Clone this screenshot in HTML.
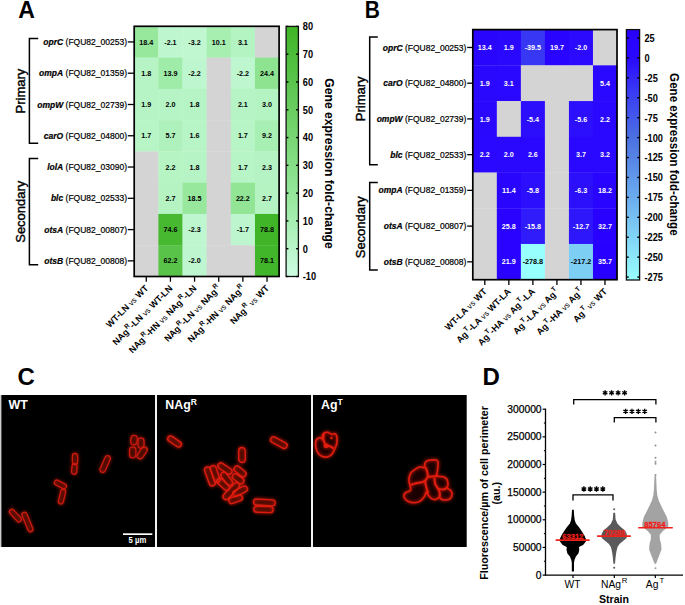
<!DOCTYPE html><html><head><meta charset="utf-8"><style>html,body{margin:0;padding:0;background:#fff;}svg{display:block;}</style></head><body><svg width="685" height="605" viewBox="0 0 685 605" font-family='"Liberation Sans", sans-serif'>
<rect width="685" height="605" fill="#fff"/>
<text transform="translate(18.3,17.5) scale(0.96,1)" font-size="24" font-weight="bold">A</text>
<text transform="translate(364.7,17.5) scale(0.875,1)" font-size="24" font-weight="bold">B</text>
<text transform="translate(17.4,385.0) scale(1.0,1)" font-size="24" font-weight="bold">C</text>
<text transform="translate(482.6,385.2) scale(1.0,1)" font-size="24" font-weight="bold">D</text>
<rect x="134.20" y="26.30" width="24.45" height="31.57" fill="#97e89d"/>
<rect x="158.35" y="26.30" width="24.45" height="31.57" fill="#bef7cf"/>
<rect x="182.50" y="26.30" width="24.45" height="31.57" fill="#c0f7d1"/>
<rect x="206.65" y="26.30" width="24.45" height="31.57" fill="#a7eeb1"/>
<rect x="230.80" y="26.30" width="24.45" height="31.57" fill="#b4f3c2"/>
<rect x="254.95" y="26.30" width="24.45" height="31.57" fill="#d4d4d4"/>
<rect x="134.20" y="57.58" width="24.45" height="31.57" fill="#b6f4c5"/>
<rect x="158.35" y="57.58" width="24.45" height="31.57" fill="#9feba8"/>
<rect x="182.50" y="57.58" width="24.45" height="31.57" fill="#bef7cf"/>
<rect x="206.65" y="57.58" width="24.45" height="31.57" fill="#d4d4d4"/>
<rect x="230.80" y="57.58" width="24.45" height="31.57" fill="#bef7cf"/>
<rect x="254.95" y="57.58" width="24.45" height="31.57" fill="#8ee391"/>
<rect x="134.20" y="88.85" width="24.45" height="31.57" fill="#b6f4c5"/>
<rect x="158.35" y="88.85" width="24.45" height="31.57" fill="#b6f4c5"/>
<rect x="182.50" y="88.85" width="24.45" height="31.57" fill="#b6f4c5"/>
<rect x="206.65" y="88.85" width="24.45" height="31.57" fill="#d4d4d4"/>
<rect x="230.80" y="88.85" width="24.45" height="31.57" fill="#b6f4c5"/>
<rect x="254.95" y="88.85" width="24.45" height="31.57" fill="#b4f3c2"/>
<rect x="134.20" y="120.12" width="24.45" height="31.57" fill="#b7f4c6"/>
<rect x="158.35" y="120.12" width="24.45" height="31.57" fill="#aff1bc"/>
<rect x="182.50" y="120.12" width="24.45" height="31.57" fill="#b7f4c6"/>
<rect x="206.65" y="120.12" width="24.45" height="31.57" fill="#d4d4d4"/>
<rect x="230.80" y="120.12" width="24.45" height="31.57" fill="#b7f4c6"/>
<rect x="254.95" y="120.12" width="24.45" height="31.57" fill="#a8efb3"/>
<rect x="134.20" y="151.40" width="24.45" height="31.57" fill="#d4d4d4"/>
<rect x="158.35" y="151.40" width="24.45" height="31.57" fill="#b6f4c4"/>
<rect x="182.50" y="151.40" width="24.45" height="31.57" fill="#b6f4c5"/>
<rect x="206.65" y="151.40" width="24.45" height="31.57" fill="#d4d4d4"/>
<rect x="230.80" y="151.40" width="24.45" height="31.57" fill="#b7f4c6"/>
<rect x="254.95" y="151.40" width="24.45" height="31.57" fill="#b6f3c4"/>
<rect x="134.20" y="182.68" width="24.45" height="31.57" fill="#d4d4d4"/>
<rect x="158.35" y="182.68" width="24.45" height="31.57" fill="#b5f3c3"/>
<rect x="182.50" y="182.68" width="24.45" height="31.57" fill="#97e89d"/>
<rect x="206.65" y="182.68" width="24.45" height="31.57" fill="#d4d4d4"/>
<rect x="230.80" y="182.68" width="24.45" height="31.57" fill="#91e595"/>
<rect x="254.95" y="182.68" width="24.45" height="31.57" fill="#b5f3c3"/>
<rect x="134.20" y="213.95" width="24.45" height="31.57" fill="#d4d4d4"/>
<rect x="158.35" y="213.95" width="24.45" height="31.57" fill="#46b930"/>
<rect x="182.50" y="213.95" width="24.45" height="31.57" fill="#bef7cf"/>
<rect x="206.65" y="213.95" width="24.45" height="31.57" fill="#d4d4d4"/>
<rect x="230.80" y="213.95" width="24.45" height="31.57" fill="#bdf6ce"/>
<rect x="254.95" y="213.95" width="24.45" height="31.57" fill="#40b528"/>
<rect x="134.20" y="245.22" width="24.45" height="31.57" fill="#d4d4d4"/>
<rect x="158.35" y="245.22" width="24.45" height="31.57" fill="#58c348"/>
<rect x="182.50" y="245.22" width="24.45" height="31.57" fill="#bef6cf"/>
<rect x="206.65" y="245.22" width="24.45" height="31.57" fill="#d4d4d4"/>
<rect x="230.80" y="245.22" width="24.45" height="31.57" fill="#d4d4d4"/>
<rect x="254.95" y="245.22" width="24.45" height="31.57" fill="#41b62a"/>
<text x="146.27" y="44.54" font-size="7.2" font-weight="bold" fill="#000" text-anchor="middle">18.4</text>
<text x="170.43" y="44.54" font-size="7.2" font-weight="bold" fill="#000" text-anchor="middle">-2.1</text>
<text x="194.57" y="44.54" font-size="7.2" font-weight="bold" fill="#000" text-anchor="middle">-3.2</text>
<text x="218.73" y="44.54" font-size="7.2" font-weight="bold" fill="#000" text-anchor="middle">10.1</text>
<text x="242.88" y="44.54" font-size="7.2" font-weight="bold" fill="#000" text-anchor="middle">3.1</text>
<text x="146.27" y="75.81" font-size="7.2" font-weight="bold" fill="#000" text-anchor="middle">1.8</text>
<text x="170.43" y="75.81" font-size="7.2" font-weight="bold" fill="#000" text-anchor="middle">13.9</text>
<text x="194.57" y="75.81" font-size="7.2" font-weight="bold" fill="#000" text-anchor="middle">-2.2</text>
<text x="242.88" y="75.81" font-size="7.2" font-weight="bold" fill="#000" text-anchor="middle">-2.2</text>
<text x="267.03" y="75.81" font-size="7.2" font-weight="bold" fill="#000" text-anchor="middle">24.4</text>
<text x="146.27" y="107.09" font-size="7.2" font-weight="bold" fill="#000" text-anchor="middle">1.9</text>
<text x="170.43" y="107.09" font-size="7.2" font-weight="bold" fill="#000" text-anchor="middle">2.0</text>
<text x="194.57" y="107.09" font-size="7.2" font-weight="bold" fill="#000" text-anchor="middle">1.8</text>
<text x="242.88" y="107.09" font-size="7.2" font-weight="bold" fill="#000" text-anchor="middle">2.1</text>
<text x="267.03" y="107.09" font-size="7.2" font-weight="bold" fill="#000" text-anchor="middle">3.0</text>
<text x="146.27" y="138.36" font-size="7.2" font-weight="bold" fill="#000" text-anchor="middle">1.7</text>
<text x="170.43" y="138.36" font-size="7.2" font-weight="bold" fill="#000" text-anchor="middle">5.7</text>
<text x="194.57" y="138.36" font-size="7.2" font-weight="bold" fill="#000" text-anchor="middle">1.6</text>
<text x="242.88" y="138.36" font-size="7.2" font-weight="bold" fill="#000" text-anchor="middle">1.7</text>
<text x="267.03" y="138.36" font-size="7.2" font-weight="bold" fill="#000" text-anchor="middle">9.2</text>
<text x="170.43" y="169.64" font-size="7.2" font-weight="bold" fill="#000" text-anchor="middle">2.2</text>
<text x="194.57" y="169.64" font-size="7.2" font-weight="bold" fill="#000" text-anchor="middle">1.8</text>
<text x="242.88" y="169.64" font-size="7.2" font-weight="bold" fill="#000" text-anchor="middle">1.7</text>
<text x="267.03" y="169.64" font-size="7.2" font-weight="bold" fill="#000" text-anchor="middle">2.3</text>
<text x="170.43" y="200.91" font-size="7.2" font-weight="bold" fill="#000" text-anchor="middle">2.7</text>
<text x="194.57" y="200.91" font-size="7.2" font-weight="bold" fill="#000" text-anchor="middle">18.5</text>
<text x="242.88" y="200.91" font-size="7.2" font-weight="bold" fill="#000" text-anchor="middle">22.2</text>
<text x="267.03" y="200.91" font-size="7.2" font-weight="bold" fill="#000" text-anchor="middle">2.7</text>
<text x="170.43" y="232.19" font-size="7.2" font-weight="bold" fill="#000" text-anchor="middle">74.6</text>
<text x="194.57" y="232.19" font-size="7.2" font-weight="bold" fill="#000" text-anchor="middle">-2.3</text>
<text x="242.88" y="232.19" font-size="7.2" font-weight="bold" fill="#000" text-anchor="middle">-1.7</text>
<text x="267.03" y="232.19" font-size="7.2" font-weight="bold" fill="#000" text-anchor="middle">78.8</text>
<text x="170.43" y="263.46" font-size="7.2" font-weight="bold" fill="#000" text-anchor="middle">62.2</text>
<text x="194.57" y="263.46" font-size="7.2" font-weight="bold" fill="#000" text-anchor="middle">-2.0</text>
<text x="267.03" y="263.46" font-size="7.2" font-weight="bold" fill="#000" text-anchor="middle">78.1</text>
<rect x="134.20" y="26.30" width="144.90" height="250.20" fill="none" stroke="#000" stroke-width="1.7"/>
<text x="127.00" y="45.04" font-size="8.5" text-anchor="end" stroke="#000" stroke-width="0.2"><tspan font-weight="bold" font-style="italic">oprC</tspan> (FQU82_00253)</text>
<line x1="127.80" y1="41.94" x2="134.20" y2="41.94" stroke="#000" stroke-width="1.3"/>
<text x="127.00" y="76.31" font-size="8.5" text-anchor="end" stroke="#000" stroke-width="0.2"><tspan font-weight="bold" font-style="italic">ompA</tspan> (FQU82_01359)</text>
<line x1="127.80" y1="73.21" x2="134.20" y2="73.21" stroke="#000" stroke-width="1.3"/>
<text x="127.00" y="107.59" font-size="8.5" text-anchor="end" stroke="#000" stroke-width="0.2"><tspan font-weight="bold" font-style="italic">ompW</tspan> (FQU82_02739)</text>
<line x1="127.80" y1="104.49" x2="134.20" y2="104.49" stroke="#000" stroke-width="1.3"/>
<text x="127.00" y="138.86" font-size="8.5" text-anchor="end" stroke="#000" stroke-width="0.2"><tspan font-weight="bold" font-style="italic">carO</tspan> (FQU82_04800)</text>
<line x1="127.80" y1="135.76" x2="134.20" y2="135.76" stroke="#000" stroke-width="1.3"/>
<text x="127.00" y="170.14" font-size="8.5" text-anchor="end" stroke="#000" stroke-width="0.2"><tspan font-weight="bold" font-style="italic">lolA</tspan> (FQU82_03090)</text>
<line x1="127.80" y1="167.04" x2="134.20" y2="167.04" stroke="#000" stroke-width="1.3"/>
<text x="127.00" y="201.41" font-size="8.5" text-anchor="end" stroke="#000" stroke-width="0.2"><tspan font-weight="bold" font-style="italic">blc</tspan> (FQU82_02533)</text>
<line x1="127.80" y1="198.31" x2="134.20" y2="198.31" stroke="#000" stroke-width="1.3"/>
<text x="127.00" y="232.69" font-size="8.5" text-anchor="end" stroke="#000" stroke-width="0.2"><tspan font-weight="bold" font-style="italic">otsA</tspan> (FQU82_00807)</text>
<line x1="127.80" y1="229.59" x2="134.20" y2="229.59" stroke="#000" stroke-width="1.3"/>
<text x="127.00" y="263.96" font-size="8.5" text-anchor="end" stroke="#000" stroke-width="0.2"><tspan font-weight="bold" font-style="italic">otsB</tspan> (FQU82_00808)</text>
<line x1="127.80" y1="260.86" x2="134.20" y2="260.86" stroke="#000" stroke-width="1.3"/>
<line x1="146.27" y1="276.5" x2="146.27" y2="281.7" stroke="#000" stroke-width="1.3"/>
<line x1="170.43" y1="276.5" x2="170.43" y2="281.7" stroke="#000" stroke-width="1.3"/>
<line x1="194.57" y1="276.5" x2="194.57" y2="281.7" stroke="#000" stroke-width="1.3"/>
<line x1="218.73" y1="276.5" x2="218.73" y2="281.7" stroke="#000" stroke-width="1.3"/>
<line x1="242.88" y1="276.5" x2="242.88" y2="281.7" stroke="#000" stroke-width="1.3"/>
<line x1="267.03" y1="276.5" x2="267.03" y2="281.7" stroke="#000" stroke-width="1.3"/>
<path d="M38.2,38.6 H29.4 V143.3 H38.2" fill="none" stroke="#000" stroke-width="1.5"/>
<path d="M38.2,158.6 H29.4 V264.8 H38.2" fill="none" stroke="#000" stroke-width="1.5"/>
<text transform="translate(25.4,91.1) rotate(-90)" font-size="13" text-anchor="middle" stroke="#000" stroke-width="0.4">Primary</text>
<text transform="translate(25.4,211.7) rotate(-90)" font-size="13" text-anchor="middle" stroke="#000" stroke-width="0.4">Secondary</text>
<defs><linearGradient id="g116" x1="0" y1="1" x2="0" y2="0"><stop offset="0" stop-color="#cdfce2"/><stop offset="0.32" stop-color="#96e89c"/><stop offset="1" stop-color="#3eb426"/></linearGradient></defs>
<rect x="286.1" y="26.4" width="12.299999999999955" height="250.1" fill="url(#g116)" stroke="#111" stroke-width="1.3"/>
<line x1="286.1" y1="26.40" x2="288.40000000000003" y2="26.40" stroke="#000" stroke-width="1.4"/>
<line x1="296.09999999999997" y1="26.40" x2="298.4" y2="26.40" stroke="#000" stroke-width="1.4"/>
<text transform="translate(302.8,30.30) scale(0.87,1)" font-size="10.6" font-weight="bold">80</text>
<line x1="286.1" y1="54.19" x2="288.40000000000003" y2="54.19" stroke="#000" stroke-width="1.4"/>
<line x1="296.09999999999997" y1="54.19" x2="298.4" y2="54.19" stroke="#000" stroke-width="1.4"/>
<text transform="translate(302.8,58.09) scale(0.87,1)" font-size="10.6" font-weight="bold">70</text>
<line x1="286.1" y1="81.98" x2="288.40000000000003" y2="81.98" stroke="#000" stroke-width="1.4"/>
<line x1="296.09999999999997" y1="81.98" x2="298.4" y2="81.98" stroke="#000" stroke-width="1.4"/>
<text transform="translate(302.8,85.88) scale(0.87,1)" font-size="10.6" font-weight="bold">60</text>
<line x1="286.1" y1="109.77" x2="288.40000000000003" y2="109.77" stroke="#000" stroke-width="1.4"/>
<line x1="296.09999999999997" y1="109.77" x2="298.4" y2="109.77" stroke="#000" stroke-width="1.4"/>
<text transform="translate(302.8,113.67) scale(0.87,1)" font-size="10.6" font-weight="bold">50</text>
<line x1="286.1" y1="137.56" x2="288.40000000000003" y2="137.56" stroke="#000" stroke-width="1.4"/>
<line x1="296.09999999999997" y1="137.56" x2="298.4" y2="137.56" stroke="#000" stroke-width="1.4"/>
<text transform="translate(302.8,141.46) scale(0.87,1)" font-size="10.6" font-weight="bold">40</text>
<line x1="286.1" y1="165.34" x2="288.40000000000003" y2="165.34" stroke="#000" stroke-width="1.4"/>
<line x1="296.09999999999997" y1="165.34" x2="298.4" y2="165.34" stroke="#000" stroke-width="1.4"/>
<text transform="translate(302.8,169.24) scale(0.87,1)" font-size="10.6" font-weight="bold">30</text>
<line x1="286.1" y1="193.13" x2="288.40000000000003" y2="193.13" stroke="#000" stroke-width="1.4"/>
<line x1="296.09999999999997" y1="193.13" x2="298.4" y2="193.13" stroke="#000" stroke-width="1.4"/>
<text transform="translate(302.8,197.03) scale(0.87,1)" font-size="10.6" font-weight="bold">20</text>
<line x1="286.1" y1="220.92" x2="288.40000000000003" y2="220.92" stroke="#000" stroke-width="1.4"/>
<line x1="296.09999999999997" y1="220.92" x2="298.4" y2="220.92" stroke="#000" stroke-width="1.4"/>
<text transform="translate(302.8,224.82) scale(0.87,1)" font-size="10.6" font-weight="bold">10</text>
<line x1="286.1" y1="248.71" x2="288.40000000000003" y2="248.71" stroke="#000" stroke-width="1.4"/>
<line x1="296.09999999999997" y1="248.71" x2="298.4" y2="248.71" stroke="#000" stroke-width="1.4"/>
<text transform="translate(302.8,252.61) scale(0.87,1)" font-size="10.6" font-weight="bold">0</text>
<line x1="286.1" y1="276.50" x2="288.40000000000003" y2="276.50" stroke="#000" stroke-width="1.4"/>
<line x1="296.09999999999997" y1="276.50" x2="298.4" y2="276.50" stroke="#000" stroke-width="1.4"/>
<text transform="translate(302.8,280.40) scale(0.87,1)" font-size="10.6" font-weight="bold">-10</text>
<text transform="translate(324.7,78.2) rotate(90)" font-size="13" font-weight="bold" textLength="170.6" lengthAdjust="spacingAndGlyphs">Gene expression fold-change</text>
<text transform="translate(148.87,288.90) rotate(-45)" font-size="9" font-weight="bold" text-anchor="end">WT-LN <tspan font-weight="normal" font-size="8">vs</tspan> WT</text>
<text transform="translate(173.03,288.90) rotate(-45)" font-size="9" font-weight="bold" text-anchor="end">NAg<tspan dx="0.6" dy="-4.2" font-size="6.5">R</tspan><tspan dy="4.2">-LN <tspan font-weight="normal" font-size="8">vs</tspan> WT-LN</tspan></text>
<text transform="translate(197.17,288.90) rotate(-45)" font-size="9" font-weight="bold" text-anchor="end">NAg<tspan dx="0.6" dy="-4.2" font-size="6.5">R</tspan><tspan dy="4.2">-HN <tspan font-weight="normal" font-size="8">vs</tspan> NAg</tspan><tspan dx="0.6" dy="-4.2" font-size="6.5">R</tspan><tspan dy="4.2">-LN</tspan></text>
<text transform="translate(221.33,288.90) rotate(-45)" font-size="9" font-weight="bold" text-anchor="end">NAg<tspan dx="0.6" dy="-4.2" font-size="6.5">R</tspan><tspan dy="4.2">-LN <tspan font-weight="normal" font-size="8">vs</tspan> NAg</tspan><tspan dx="0.6" dy="-4.2" font-size="6.5">R</tspan><tspan dy="4.2"> </tspan></text>
<text transform="translate(245.47,288.90) rotate(-45)" font-size="9" font-weight="bold" text-anchor="end">NAg<tspan dx="0.6" dy="-4.2" font-size="6.5">R</tspan><tspan dy="4.2">-HN <tspan font-weight="normal" font-size="8">vs</tspan> NAg</tspan><tspan dx="0.6" dy="-4.2" font-size="6.5">R</tspan><tspan dy="4.2"> </tspan></text>
<text transform="translate(269.63,288.90) rotate(-45)" font-size="9" font-weight="bold" text-anchor="end">NAg<tspan dx="0.6" dy="-4.2" font-size="6.5">R</tspan><tspan dy="4.2"> <tspan font-weight="normal" font-size="8">vs</tspan> WT</tspan></text>
<rect x="472.80" y="29.60" width="24.33" height="36.03" fill="#2905fe"/>
<rect x="496.83" y="29.60" width="24.33" height="36.03" fill="#2a08fe"/>
<rect x="520.87" y="29.60" width="24.33" height="36.03" fill="#3838f4"/>
<rect x="544.90" y="29.60" width="24.33" height="36.03" fill="#2904ff"/>
<rect x="568.93" y="29.60" width="24.33" height="36.03" fill="#2b0afe"/>
<rect x="592.97" y="29.60" width="24.33" height="36.03" fill="#d4d4d4"/>
<rect x="472.80" y="65.33" width="24.33" height="36.03" fill="#2a08fe"/>
<rect x="496.83" y="65.33" width="24.33" height="36.03" fill="#2a07fe"/>
<rect x="520.87" y="65.33" width="24.33" height="36.03" fill="#d4d4d4"/>
<rect x="544.90" y="65.33" width="24.33" height="36.03" fill="#d4d4d4"/>
<rect x="568.93" y="65.33" width="24.33" height="36.03" fill="#d4d4d4"/>
<rect x="592.97" y="65.33" width="24.33" height="36.03" fill="#2a07fe"/>
<rect x="472.80" y="101.06" width="24.33" height="36.03" fill="#2a08fe"/>
<rect x="496.83" y="101.06" width="24.33" height="36.03" fill="#d4d4d4"/>
<rect x="520.87" y="101.06" width="24.33" height="36.03" fill="#2c0efd"/>
<rect x="544.90" y="101.06" width="24.33" height="36.03" fill="#d4d4d4"/>
<rect x="568.93" y="101.06" width="24.33" height="36.03" fill="#2c0ffd"/>
<rect x="592.97" y="101.06" width="24.33" height="36.03" fill="#2a07fe"/>
<rect x="472.80" y="136.79" width="24.33" height="36.03" fill="#2a07fe"/>
<rect x="496.83" y="136.79" width="24.33" height="36.03" fill="#2a08fe"/>
<rect x="520.87" y="136.79" width="24.33" height="36.03" fill="#2a07fe"/>
<rect x="544.90" y="136.79" width="24.33" height="36.03" fill="#d4d4d4"/>
<rect x="568.93" y="136.79" width="24.33" height="36.03" fill="#2a07fe"/>
<rect x="592.97" y="136.79" width="24.33" height="36.03" fill="#2a07fe"/>
<rect x="472.80" y="172.51" width="24.33" height="36.03" fill="#d4d4d4"/>
<rect x="496.83" y="172.51" width="24.33" height="36.03" fill="#2905fe"/>
<rect x="520.87" y="172.51" width="24.33" height="36.03" fill="#2c0ffd"/>
<rect x="544.90" y="172.51" width="24.33" height="36.03" fill="#d4d4d4"/>
<rect x="568.93" y="172.51" width="24.33" height="36.03" fill="#2c10fc"/>
<rect x="592.97" y="172.51" width="24.33" height="36.03" fill="#2904ff"/>
<rect x="472.80" y="208.24" width="24.33" height="36.03" fill="#d4d4d4"/>
<rect x="496.83" y="208.24" width="24.33" height="36.03" fill="#2902ff"/>
<rect x="520.87" y="208.24" width="24.33" height="36.03" fill="#301bfa"/>
<rect x="544.90" y="208.24" width="24.33" height="36.03" fill="#d4d4d4"/>
<rect x="568.93" y="208.24" width="24.33" height="36.03" fill="#2e17fb"/>
<rect x="592.97" y="208.24" width="24.33" height="36.03" fill="#2801ff"/>
<rect x="472.80" y="243.97" width="24.33" height="36.03" fill="#d4d4d4"/>
<rect x="496.83" y="243.97" width="24.33" height="36.03" fill="#2903ff"/>
<rect x="520.87" y="243.97" width="24.33" height="36.03" fill="#98ffff"/>
<rect x="544.90" y="243.97" width="24.33" height="36.03" fill="#d4d4d4"/>
<rect x="568.93" y="243.97" width="24.33" height="36.03" fill="#7dcef5"/>
<rect x="592.97" y="243.97" width="24.33" height="36.03" fill="#2800ff"/>
<text x="484.82" y="50.06" font-size="7.2" font-weight="bold" fill="#fff" text-anchor="middle">13.4</text>
<text x="508.85" y="50.06" font-size="7.2" font-weight="bold" fill="#fff" text-anchor="middle">1.9</text>
<text x="532.88" y="50.06" font-size="7.2" font-weight="bold" fill="#fff" text-anchor="middle">-39.5</text>
<text x="556.92" y="50.06" font-size="7.2" font-weight="bold" fill="#fff" text-anchor="middle">19.7</text>
<text x="580.95" y="50.06" font-size="7.2" font-weight="bold" fill="#fff" text-anchor="middle">-2.0</text>
<text x="484.82" y="85.79" font-size="7.2" font-weight="bold" fill="#fff" text-anchor="middle">1.9</text>
<text x="508.85" y="85.79" font-size="7.2" font-weight="bold" fill="#fff" text-anchor="middle">3.1</text>
<text x="604.98" y="85.79" font-size="7.2" font-weight="bold" fill="#fff" text-anchor="middle">5.4</text>
<text x="484.82" y="121.52" font-size="7.2" font-weight="bold" fill="#fff" text-anchor="middle">1.9</text>
<text x="532.88" y="121.52" font-size="7.2" font-weight="bold" fill="#fff" text-anchor="middle">-5.4</text>
<text x="580.95" y="121.52" font-size="7.2" font-weight="bold" fill="#fff" text-anchor="middle">-5.6</text>
<text x="604.98" y="121.52" font-size="7.2" font-weight="bold" fill="#fff" text-anchor="middle">2.2</text>
<text x="484.82" y="157.25" font-size="7.2" font-weight="bold" fill="#fff" text-anchor="middle">2.2</text>
<text x="508.85" y="157.25" font-size="7.2" font-weight="bold" fill="#fff" text-anchor="middle">2.0</text>
<text x="532.88" y="157.25" font-size="7.2" font-weight="bold" fill="#fff" text-anchor="middle">2.6</text>
<text x="580.95" y="157.25" font-size="7.2" font-weight="bold" fill="#fff" text-anchor="middle">3.7</text>
<text x="604.98" y="157.25" font-size="7.2" font-weight="bold" fill="#fff" text-anchor="middle">3.2</text>
<text x="508.85" y="192.98" font-size="7.2" font-weight="bold" fill="#fff" text-anchor="middle">11.4</text>
<text x="532.88" y="192.98" font-size="7.2" font-weight="bold" fill="#fff" text-anchor="middle">-5.8</text>
<text x="580.95" y="192.98" font-size="7.2" font-weight="bold" fill="#fff" text-anchor="middle">-6.3</text>
<text x="604.98" y="192.98" font-size="7.2" font-weight="bold" fill="#fff" text-anchor="middle">18.2</text>
<text x="508.85" y="228.71" font-size="7.2" font-weight="bold" fill="#fff" text-anchor="middle">25.8</text>
<text x="532.88" y="228.71" font-size="7.2" font-weight="bold" fill="#fff" text-anchor="middle">-15.8</text>
<text x="580.95" y="228.71" font-size="7.2" font-weight="bold" fill="#fff" text-anchor="middle">-12.7</text>
<text x="604.98" y="228.71" font-size="7.2" font-weight="bold" fill="#fff" text-anchor="middle">32.7</text>
<text x="508.85" y="264.44" font-size="7.2" font-weight="bold" fill="#fff" text-anchor="middle">21.9</text>
<text x="532.88" y="264.44" font-size="7.2" font-weight="bold" fill="#000" text-anchor="middle">-278.8</text>
<text x="580.95" y="264.44" font-size="7.2" font-weight="bold" fill="#000" text-anchor="middle">-217.2</text>
<text x="604.98" y="264.44" font-size="7.2" font-weight="bold" fill="#fff" text-anchor="middle">35.7</text>
<rect x="472.80" y="29.60" width="144.20" height="250.10" fill="none" stroke="#000" stroke-width="1.7"/>
<text x="466.40" y="50.56" font-size="8.5" text-anchor="end" stroke="#000" stroke-width="0.2"><tspan font-weight="bold" font-style="italic">oprC</tspan> (FQU82_00253)</text>
<line x1="467.20" y1="47.46" x2="472.80" y2="47.46" stroke="#000" stroke-width="1.3"/>
<text x="466.40" y="86.29" font-size="8.5" text-anchor="end" stroke="#000" stroke-width="0.2"><tspan font-weight="bold" font-style="italic">carO</tspan> (FQU82_04800)</text>
<line x1="467.20" y1="83.19" x2="472.80" y2="83.19" stroke="#000" stroke-width="1.3"/>
<text x="466.40" y="122.02" font-size="8.5" text-anchor="end" stroke="#000" stroke-width="0.2"><tspan font-weight="bold" font-style="italic">ompW</tspan> (FQU82_02739)</text>
<line x1="467.20" y1="118.92" x2="472.80" y2="118.92" stroke="#000" stroke-width="1.3"/>
<text x="466.40" y="157.75" font-size="8.5" text-anchor="end" stroke="#000" stroke-width="0.2"><tspan font-weight="bold" font-style="italic">blc</tspan> (FQU82_02533)</text>
<line x1="467.20" y1="154.65" x2="472.80" y2="154.65" stroke="#000" stroke-width="1.3"/>
<text x="466.40" y="193.48" font-size="8.5" text-anchor="end" stroke="#000" stroke-width="0.2"><tspan font-weight="bold" font-style="italic">ompA</tspan> (FQU82_01359)</text>
<line x1="467.20" y1="190.38" x2="472.80" y2="190.38" stroke="#000" stroke-width="1.3"/>
<text x="466.40" y="229.21" font-size="8.5" text-anchor="end" stroke="#000" stroke-width="0.2"><tspan font-weight="bold" font-style="italic">otsA</tspan> (FQU82_00807)</text>
<line x1="467.20" y1="226.11" x2="472.80" y2="226.11" stroke="#000" stroke-width="1.3"/>
<text x="466.40" y="264.94" font-size="8.5" text-anchor="end" stroke="#000" stroke-width="0.2"><tspan font-weight="bold" font-style="italic">otsB</tspan> (FQU82_00808)</text>
<line x1="467.20" y1="261.84" x2="472.80" y2="261.84" stroke="#000" stroke-width="1.3"/>
<line x1="484.82" y1="279.7" x2="484.82" y2="284.9" stroke="#000" stroke-width="1.3"/>
<line x1="508.85" y1="279.7" x2="508.85" y2="284.9" stroke="#000" stroke-width="1.3"/>
<line x1="532.88" y1="279.7" x2="532.88" y2="284.9" stroke="#000" stroke-width="1.3"/>
<line x1="556.92" y1="279.7" x2="556.92" y2="284.9" stroke="#000" stroke-width="1.3"/>
<line x1="580.95" y1="279.7" x2="580.95" y2="284.9" stroke="#000" stroke-width="1.3"/>
<line x1="604.98" y1="279.7" x2="604.98" y2="284.9" stroke="#000" stroke-width="1.3"/>
<path d="M377.8,37.0 H369.7 V164.7 H377.8" fill="none" stroke="#000" stroke-width="1.5"/>
<path d="M377.8,182.5 H369.7 V270.0 H377.8" fill="none" stroke="#000" stroke-width="1.5"/>
<text transform="translate(365.1,98.8) rotate(-90)" font-size="13" text-anchor="middle" stroke="#000" stroke-width="0.4">Primary</text>
<text transform="translate(365.1,227.2) rotate(-90)" font-size="13" text-anchor="middle" stroke="#000" stroke-width="0.4">Secondary</text>
<defs><linearGradient id="g251" x1="0" y1="1" x2="0" y2="0"><stop offset="0" stop-color="#98ffff"/><stop offset="0.5685" stop-color="#4b70e2"/><stop offset="0.761" stop-color="#3838f4"/><stop offset="0.886" stop-color="#2a08fe"/><stop offset="1" stop-color="#2800ff"/></linearGradient></defs>
<rect x="626.4" y="29.6" width="13.200000000000045" height="250.4" fill="url(#g251)" stroke="#111" stroke-width="1.3"/>
<line x1="626.4" y1="37.97" x2="628.6999999999999" y2="37.97" stroke="#000" stroke-width="1.4"/>
<line x1="637.3000000000001" y1="37.97" x2="639.6" y2="37.97" stroke="#000" stroke-width="1.4"/>
<text transform="translate(644.5,41.87) scale(0.87,1)" font-size="10.6" font-weight="bold">25</text>
<line x1="626.4" y1="57.90" x2="628.6999999999999" y2="57.90" stroke="#000" stroke-width="1.4"/>
<line x1="637.3000000000001" y1="57.90" x2="639.6" y2="57.90" stroke="#000" stroke-width="1.4"/>
<text transform="translate(644.5,61.80) scale(0.87,1)" font-size="10.6" font-weight="bold">0</text>
<line x1="626.4" y1="77.83" x2="628.6999999999999" y2="77.83" stroke="#000" stroke-width="1.4"/>
<line x1="637.3000000000001" y1="77.83" x2="639.6" y2="77.83" stroke="#000" stroke-width="1.4"/>
<text transform="translate(644.5,81.73) scale(0.87,1)" font-size="10.6" font-weight="bold">-25</text>
<line x1="626.4" y1="97.75" x2="628.6999999999999" y2="97.75" stroke="#000" stroke-width="1.4"/>
<line x1="637.3000000000001" y1="97.75" x2="639.6" y2="97.75" stroke="#000" stroke-width="1.4"/>
<text transform="translate(644.5,101.65) scale(0.87,1)" font-size="10.6" font-weight="bold">-50</text>
<line x1="626.4" y1="117.68" x2="628.6999999999999" y2="117.68" stroke="#000" stroke-width="1.4"/>
<line x1="637.3000000000001" y1="117.68" x2="639.6" y2="117.68" stroke="#000" stroke-width="1.4"/>
<text transform="translate(644.5,121.58) scale(0.87,1)" font-size="10.6" font-weight="bold">-75</text>
<line x1="626.4" y1="137.60" x2="628.6999999999999" y2="137.60" stroke="#000" stroke-width="1.4"/>
<line x1="637.3000000000001" y1="137.60" x2="639.6" y2="137.60" stroke="#000" stroke-width="1.4"/>
<text transform="translate(644.5,141.50) scale(0.87,1)" font-size="10.6" font-weight="bold">-100</text>
<line x1="626.4" y1="157.53" x2="628.6999999999999" y2="157.53" stroke="#000" stroke-width="1.4"/>
<line x1="637.3000000000001" y1="157.53" x2="639.6" y2="157.53" stroke="#000" stroke-width="1.4"/>
<text transform="translate(644.5,161.43) scale(0.87,1)" font-size="10.6" font-weight="bold">-125</text>
<line x1="626.4" y1="177.45" x2="628.6999999999999" y2="177.45" stroke="#000" stroke-width="1.4"/>
<line x1="637.3000000000001" y1="177.45" x2="639.6" y2="177.45" stroke="#000" stroke-width="1.4"/>
<text transform="translate(644.5,181.35) scale(0.87,1)" font-size="10.6" font-weight="bold">-150</text>
<line x1="626.4" y1="197.38" x2="628.6999999999999" y2="197.38" stroke="#000" stroke-width="1.4"/>
<line x1="637.3000000000001" y1="197.38" x2="639.6" y2="197.38" stroke="#000" stroke-width="1.4"/>
<text transform="translate(644.5,201.28) scale(0.87,1)" font-size="10.6" font-weight="bold">-175</text>
<line x1="626.4" y1="217.30" x2="628.6999999999999" y2="217.30" stroke="#000" stroke-width="1.4"/>
<line x1="637.3000000000001" y1="217.30" x2="639.6" y2="217.30" stroke="#000" stroke-width="1.4"/>
<text transform="translate(644.5,221.20) scale(0.87,1)" font-size="10.6" font-weight="bold">-200</text>
<line x1="626.4" y1="237.23" x2="628.6999999999999" y2="237.23" stroke="#000" stroke-width="1.4"/>
<line x1="637.3000000000001" y1="237.23" x2="639.6" y2="237.23" stroke="#000" stroke-width="1.4"/>
<text transform="translate(644.5,241.13) scale(0.87,1)" font-size="10.6" font-weight="bold">-225</text>
<line x1="626.4" y1="257.15" x2="628.6999999999999" y2="257.15" stroke="#000" stroke-width="1.4"/>
<line x1="637.3000000000001" y1="257.15" x2="639.6" y2="257.15" stroke="#000" stroke-width="1.4"/>
<text transform="translate(644.5,261.05) scale(0.87,1)" font-size="10.6" font-weight="bold">-250</text>
<line x1="626.4" y1="277.07" x2="628.6999999999999" y2="277.07" stroke="#000" stroke-width="1.4"/>
<line x1="637.3000000000001" y1="277.07" x2="639.6" y2="277.07" stroke="#000" stroke-width="1.4"/>
<text transform="translate(644.5,280.97) scale(0.87,1)" font-size="10.6" font-weight="bold">-275</text>
<text transform="translate(669.5,73.1) rotate(90)" font-size="13" font-weight="bold" textLength="162.5" lengthAdjust="spacingAndGlyphs">Gene expression fold-change</text>
<text transform="translate(487.42,292.10) rotate(-45)" font-size="9" font-weight="bold" text-anchor="end">WT-LA <tspan font-weight="normal" font-size="8">vs</tspan> WT</text>
<text transform="translate(511.45,292.10) rotate(-45)" font-size="9" font-weight="bold" text-anchor="end">Ag<tspan dx="0.6" dy="-4.2" font-size="6.5">T</tspan><tspan dy="4.2">-LA <tspan font-weight="normal" font-size="8">vs</tspan> WT-LA</tspan></text>
<text transform="translate(535.48,292.10) rotate(-45)" font-size="9" font-weight="bold" text-anchor="end">Ag<tspan dx="0.6" dy="-4.2" font-size="6.5">T</tspan><tspan dy="4.2">-HA <tspan font-weight="normal" font-size="8">vs</tspan> Ag</tspan><tspan dx="0.6" dy="-4.2" font-size="6.5">T</tspan><tspan dy="4.2">-LA</tspan></text>
<text transform="translate(559.52,292.10) rotate(-45)" font-size="9" font-weight="bold" text-anchor="end">Ag<tspan dx="0.6" dy="-4.2" font-size="6.5">T</tspan><tspan dy="4.2">-LA <tspan font-weight="normal" font-size="8">vs</tspan> Ag</tspan><tspan dx="0.6" dy="-4.2" font-size="6.5">T</tspan><tspan dy="4.2"> </tspan></text>
<text transform="translate(583.55,292.10) rotate(-45)" font-size="9" font-weight="bold" text-anchor="end">Ag<tspan dx="0.6" dy="-4.2" font-size="6.5">T</tspan><tspan dy="4.2">-HA <tspan font-weight="normal" font-size="8">vs</tspan> Ag</tspan><tspan dx="0.6" dy="-4.2" font-size="6.5">T</tspan><tspan dy="4.2"> </tspan></text>
<text transform="translate(607.58,292.10) rotate(-45)" font-size="9" font-weight="bold" text-anchor="end">Ag<tspan dx="0.6" dy="-4.2" font-size="6.5">T</tspan><tspan dy="4.2"> <tspan font-weight="normal" font-size="8">vs</tspan> WT</tspan></text>
<defs><filter id="glow" x="-50%" y="-50%" width="200%" height="200%"><feGaussianBlur stdDeviation="0.6"/></filter><filter id="glow2" x="-50%" y="-50%" width="200%" height="200%"><feGaussianBlur stdDeviation="1.6"/></filter><clipPath id="cp1"><rect x="1.2" y="395" width="153.8" height="152"/></clipPath><clipPath id="cp2"><rect x="157" y="395" width="154" height="152"/></clipPath><clipPath id="cp3"><rect x="313" y="395" width="153.7" height="152"/></clipPath></defs>
<rect x="1.2" y="395" width="465.5" height="152" fill="#000"/>
<rect x="155" y="395" width="2" height="152" fill="#f2f2f2"/>
<rect x="311" y="395" width="2" height="152" fill="#f2f2f2"/>
<rect x="0.6" y="395" width="0.8" height="152" fill="#888"/>
<g clip-path="url(#cp1)">
<g fill="none" stroke="#e01a0a" stroke-width="3.4" opacity="0.4" filter="url(#glow2)"><rect x="-7.65" y="-2.50" width="15.30" height="5.00" rx="2.50" transform="translate(15.40,515.60) rotate(47.2)"/><rect x="-10.30" y="-2.50" width="20.59" height="5.00" rx="2.50" transform="translate(27.45,522.00) rotate(67.9)"/><rect x="-6.49" y="-2.50" width="12.99" height="5.00" rx="2.50" transform="translate(60.40,484.50) rotate(27.8)"/><rect x="-7.44" y="-2.50" width="14.88" height="5.00" rx="2.50" transform="translate(62.00,496.70) rotate(103.2)"/><rect x="-5.65" y="-2.60" width="11.30" height="5.20" rx="2.60" transform="translate(75.00,458.95) rotate(90.0)"/><rect x="-5.31" y="-2.60" width="10.62" height="5.20" rx="2.60" transform="translate(74.35,469.00) rotate(94.8)"/><rect x="-8.85" y="-2.75" width="17.70" height="5.50" rx="2.75" transform="translate(105.20,464.05) rotate(114.0)"/><rect x="-4.81" y="-3.20" width="9.62" height="6.40" rx="3.20" transform="translate(134.00,440.10) rotate(96.0)"/><rect x="-5.25" y="-3.05" width="10.50" height="6.10" rx="3.05" transform="translate(141.00,443.10) rotate(90.0)"/><rect x="-5.55" y="-3.20" width="11.10" height="6.40" rx="3.20" transform="translate(132.70,452.35) rotate(90.0)"/><rect x="-6.67" y="-3.00" width="13.33" height="6.00" rx="3.00" transform="translate(142.20,452.90) rotate(123.7)"/></g>
<g fill="#ff2010" fill-opacity="0.17" stroke="#d41c10" stroke-opacity="0.92" stroke-width="1.3" filter="url(#glow)"><rect x="-7.65" y="-2.50" width="15.30" height="5.00" rx="2.50" transform="translate(15.40,515.60) rotate(47.2)"/><rect x="-10.30" y="-2.50" width="20.59" height="5.00" rx="2.50" transform="translate(27.45,522.00) rotate(67.9)"/><rect x="-6.49" y="-2.50" width="12.99" height="5.00" rx="2.50" transform="translate(60.40,484.50) rotate(27.8)"/><rect x="-7.44" y="-2.50" width="14.88" height="5.00" rx="2.50" transform="translate(62.00,496.70) rotate(103.2)"/><rect x="-5.65" y="-2.60" width="11.30" height="5.20" rx="2.60" transform="translate(75.00,458.95) rotate(90.0)"/><rect x="-5.31" y="-2.60" width="10.62" height="5.20" rx="2.60" transform="translate(74.35,469.00) rotate(94.8)"/><rect x="-8.85" y="-2.75" width="17.70" height="5.50" rx="2.75" transform="translate(105.20,464.05) rotate(114.0)"/><rect x="-4.81" y="-3.20" width="9.62" height="6.40" rx="3.20" transform="translate(134.00,440.10) rotate(96.0)"/><rect x="-5.25" y="-3.05" width="10.50" height="6.10" rx="3.05" transform="translate(141.00,443.10) rotate(90.0)"/><rect x="-5.55" y="-3.20" width="11.10" height="6.40" rx="3.20" transform="translate(132.70,452.35) rotate(90.0)"/><rect x="-6.67" y="-3.00" width="13.33" height="6.00" rx="3.00" transform="translate(142.20,452.90) rotate(123.7)"/></g>
</g>
<g clip-path="url(#cp2)">
<g fill="none" stroke="#e01a0a" stroke-width="3.4" opacity="0.55" filter="url(#glow2)"><rect x="-7.71" y="-2.80" width="15.43" height="5.60" rx="2.80" transform="translate(174.50,441.45) rotate(34.5)"/><rect x="-7.45" y="-3.25" width="14.90" height="6.50" rx="3.25" transform="translate(242.00,455.00) rotate(90.0)"/><rect x="-8.99" y="-3.00" width="17.97" height="6.00" rx="3.00" transform="translate(278.85,442.65) rotate(28.0)"/><rect x="-10.86" y="-3.00" width="21.72" height="6.00" rx="3.00" transform="translate(264.35,502.45) rotate(3.2)"/><rect x="-9.70" y="-3.00" width="19.40" height="6.00" rx="3.00" transform="translate(263.50,509.45) rotate(1.2)"/><rect x="-9.93" y="-3.00" width="19.86" height="6.00" rx="3.00" transform="translate(209.85,476.40) rotate(70.2)"/><rect x="-8.74" y="-3.00" width="17.48" height="6.00" rx="3.00" transform="translate(215.10,474.00) rotate(70.7)"/><rect x="-7.90" y="-3.00" width="15.80" height="6.00" rx="3.00" transform="translate(224.95,468.55) rotate(33.2)"/><rect x="-7.72" y="-3.00" width="15.44" height="6.00" rx="3.00" transform="translate(226.70,478.85) rotate(51.9)"/><rect x="-7.51" y="-3.00" width="15.02" height="6.00" rx="3.00" transform="translate(223.20,484.30) rotate(43.3)"/><rect x="-6.86" y="-3.00" width="13.72" height="6.00" rx="3.00" transform="translate(240.05,471.40) rotate(38.7)"/><rect x="-6.50" y="-3.00" width="13.00" height="6.00" rx="3.00" transform="translate(238.10,478.80) rotate(35.4)"/><rect x="-10.62" y="-3.00" width="21.24" height="6.00" rx="3.00" transform="translate(231.30,491.10) rotate(-46.0)"/><rect x="-7.89" y="-3.00" width="15.78" height="6.00" rx="3.00" transform="translate(240.10,491.30) rotate(-27.6)"/><rect x="-7.11" y="-3.00" width="14.23" height="6.00" rx="3.00" transform="translate(235.65,499.20) rotate(-19.9)"/></g>
<g fill="#ff2010" fill-opacity="0.17" stroke="#e41e10" stroke-opacity="0.92" stroke-width="1.4" filter="url(#glow)"><rect x="-7.71" y="-2.80" width="15.43" height="5.60" rx="2.80" transform="translate(174.50,441.45) rotate(34.5)"/><rect x="-7.45" y="-3.25" width="14.90" height="6.50" rx="3.25" transform="translate(242.00,455.00) rotate(90.0)"/><rect x="-8.99" y="-3.00" width="17.97" height="6.00" rx="3.00" transform="translate(278.85,442.65) rotate(28.0)"/><rect x="-10.86" y="-3.00" width="21.72" height="6.00" rx="3.00" transform="translate(264.35,502.45) rotate(3.2)"/><rect x="-9.70" y="-3.00" width="19.40" height="6.00" rx="3.00" transform="translate(263.50,509.45) rotate(1.2)"/><rect x="-9.93" y="-3.00" width="19.86" height="6.00" rx="3.00" transform="translate(209.85,476.40) rotate(70.2)"/><rect x="-8.74" y="-3.00" width="17.48" height="6.00" rx="3.00" transform="translate(215.10,474.00) rotate(70.7)"/><rect x="-7.90" y="-3.00" width="15.80" height="6.00" rx="3.00" transform="translate(224.95,468.55) rotate(33.2)"/><rect x="-7.72" y="-3.00" width="15.44" height="6.00" rx="3.00" transform="translate(226.70,478.85) rotate(51.9)"/><rect x="-7.51" y="-3.00" width="15.02" height="6.00" rx="3.00" transform="translate(223.20,484.30) rotate(43.3)"/><rect x="-6.86" y="-3.00" width="13.72" height="6.00" rx="3.00" transform="translate(240.05,471.40) rotate(38.7)"/><rect x="-6.50" y="-3.00" width="13.00" height="6.00" rx="3.00" transform="translate(238.10,478.80) rotate(35.4)"/><rect x="-10.62" y="-3.00" width="21.24" height="6.00" rx="3.00" transform="translate(231.30,491.10) rotate(-46.0)"/><rect x="-7.89" y="-3.00" width="15.78" height="6.00" rx="3.00" transform="translate(240.10,491.30) rotate(-27.6)"/><rect x="-7.11" y="-3.00" width="14.23" height="6.00" rx="3.00" transform="translate(235.65,499.20) rotate(-19.9)"/></g>
</g>
<g clip-path="url(#cp3)">
<g fill="none" stroke="#e01a0a" stroke-width="3.4" opacity="0.6" filter="url(#glow2)"><path d="M425.27,462.27 C425.80,461.67 426.18,460.83 428.00,460.45 C429.82,460.08 434.52,459.77 436.18,460.00 C437.85,460.23 437.70,460.83 438.00,461.82 C438.30,462.80 438.08,464.47 438.00,465.91 C437.92,467.35 437.70,468.79 437.55,470.45 C437.39,472.12 436.11,474.85 437.09,475.91 C438.08,476.97 441.79,476.21 443.45,476.82 C445.12,477.42 446.33,478.18 447.09,479.55 C447.85,480.91 448.00,483.64 448.00,485.00 C448.00,486.36 446.64,486.82 447.09,487.73 C447.55,488.64 449.89,489.39 450.73,490.45 C451.56,491.52 452.17,492.73 452.09,494.09 C452.02,495.45 451.26,497.65 450.27,498.64 C449.29,499.62 447.62,499.85 446.18,500.00 C444.74,500.15 442.77,499.92 441.64,499.55 C440.50,499.17 440.42,497.73 439.36,497.73 C438.30,497.73 436.56,499.39 435.27,499.55 C433.98,499.70 432.70,499.24 431.64,498.64 C430.58,498.03 429.82,496.97 428.91,495.91 C428.00,494.85 426.94,492.12 426.18,492.27 C425.42,492.42 425.42,495.30 424.36,496.82 C423.30,498.33 421.48,500.38 419.82,501.36 C418.15,502.35 416.18,502.65 414.36,502.73 C412.55,502.80 410.50,502.50 408.91,501.82 C407.32,501.14 405.65,499.77 404.82,498.64 C403.98,497.50 403.68,496.06 403.91,495.00 C404.14,493.94 405.20,492.95 406.18,492.27 C407.17,491.59 409.06,491.52 409.82,490.91 C410.58,490.30 410.73,489.62 410.73,488.64 C410.73,487.65 410.12,486.52 409.82,485.00 C409.52,483.48 408.76,481.52 408.91,479.55 C409.06,477.58 409.52,475.00 410.73,473.18 C411.94,471.36 414.52,469.70 416.18,468.64 C417.85,467.58 419.44,466.97 420.73,466.82 C422.02,466.67 423.23,468.18 423.91,467.73 C424.59,467.27 424.59,465.00 424.82,464.09 C425.05,463.18 424.74,462.88 425.27,462.27 Z"/><path d="M322.84,434.84 C323.18,433.87 323.80,433.25 324.57,432.81 C325.35,432.38 326.50,432.09 327.47,432.23 C328.43,432.38 329.59,433.34 330.36,433.68 C331.13,434.02 331.33,434.26 332.10,434.26 C332.87,434.26 334.22,433.39 334.99,433.68 C335.76,433.97 336.39,434.74 336.73,436.00 C337.06,437.25 337.11,439.56 337.02,441.20 C336.92,442.84 336.58,444.48 336.15,445.83 C335.71,447.18 334.89,448.24 334.41,449.31 C333.93,450.37 333.93,451.14 333.25,452.20 C332.58,453.26 331.52,454.85 330.36,455.67 C329.20,456.49 327.76,457.02 326.31,457.12 C324.86,457.21 323.03,456.88 321.68,456.25 C320.33,455.62 319.17,454.71 318.21,453.36 C317.24,452.01 316.33,449.98 315.89,448.15 C315.46,446.32 315.41,443.90 315.60,442.36 C315.80,440.82 316.33,439.66 317.05,438.89 C317.77,438.12 319.03,437.78 319.94,437.73 C320.86,437.68 322.07,439.08 322.55,438.60 C323.03,438.12 322.50,435.80 322.84,434.84 Z"/></g>
<g fill="#ff2010" fill-opacity="0.1" stroke="#ec2010" stroke-opacity="0.92" stroke-width="1.6" filter="url(#glow)"><path d="M425.27,462.27 C425.80,461.67 426.18,460.83 428.00,460.45 C429.82,460.08 434.52,459.77 436.18,460.00 C437.85,460.23 437.70,460.83 438.00,461.82 C438.30,462.80 438.08,464.47 438.00,465.91 C437.92,467.35 437.70,468.79 437.55,470.45 C437.39,472.12 436.11,474.85 437.09,475.91 C438.08,476.97 441.79,476.21 443.45,476.82 C445.12,477.42 446.33,478.18 447.09,479.55 C447.85,480.91 448.00,483.64 448.00,485.00 C448.00,486.36 446.64,486.82 447.09,487.73 C447.55,488.64 449.89,489.39 450.73,490.45 C451.56,491.52 452.17,492.73 452.09,494.09 C452.02,495.45 451.26,497.65 450.27,498.64 C449.29,499.62 447.62,499.85 446.18,500.00 C444.74,500.15 442.77,499.92 441.64,499.55 C440.50,499.17 440.42,497.73 439.36,497.73 C438.30,497.73 436.56,499.39 435.27,499.55 C433.98,499.70 432.70,499.24 431.64,498.64 C430.58,498.03 429.82,496.97 428.91,495.91 C428.00,494.85 426.94,492.12 426.18,492.27 C425.42,492.42 425.42,495.30 424.36,496.82 C423.30,498.33 421.48,500.38 419.82,501.36 C418.15,502.35 416.18,502.65 414.36,502.73 C412.55,502.80 410.50,502.50 408.91,501.82 C407.32,501.14 405.65,499.77 404.82,498.64 C403.98,497.50 403.68,496.06 403.91,495.00 C404.14,493.94 405.20,492.95 406.18,492.27 C407.17,491.59 409.06,491.52 409.82,490.91 C410.58,490.30 410.73,489.62 410.73,488.64 C410.73,487.65 410.12,486.52 409.82,485.00 C409.52,483.48 408.76,481.52 408.91,479.55 C409.06,477.58 409.52,475.00 410.73,473.18 C411.94,471.36 414.52,469.70 416.18,468.64 C417.85,467.58 419.44,466.97 420.73,466.82 C422.02,466.67 423.23,468.18 423.91,467.73 C424.59,467.27 424.59,465.00 424.82,464.09 C425.05,463.18 424.74,462.88 425.27,462.27 Z"/><path d="M322.84,434.84 C323.18,433.87 323.80,433.25 324.57,432.81 C325.35,432.38 326.50,432.09 327.47,432.23 C328.43,432.38 329.59,433.34 330.36,433.68 C331.13,434.02 331.33,434.26 332.10,434.26 C332.87,434.26 334.22,433.39 334.99,433.68 C335.76,433.97 336.39,434.74 336.73,436.00 C337.06,437.25 337.11,439.56 337.02,441.20 C336.92,442.84 336.58,444.48 336.15,445.83 C335.71,447.18 334.89,448.24 334.41,449.31 C333.93,450.37 333.93,451.14 333.25,452.20 C332.58,453.26 331.52,454.85 330.36,455.67 C329.20,456.49 327.76,457.02 326.31,457.12 C324.86,457.21 323.03,456.88 321.68,456.25 C320.33,455.62 319.17,454.71 318.21,453.36 C317.24,452.01 316.33,449.98 315.89,448.15 C315.46,446.32 315.41,443.90 315.60,442.36 C315.80,440.82 316.33,439.66 317.05,438.89 C317.77,438.12 319.03,437.78 319.94,437.73 C320.86,437.68 322.07,439.08 322.55,438.60 C323.03,438.12 322.50,435.80 322.84,434.84 Z"/></g>
<g fill="none" stroke="#ff1a0a" stroke-width="3.4" opacity="0.55" filter="url(#glow2)"><path d="M410.73,485.00 C411.64,484.70 414.36,483.64 416.18,483.18 C418.00,482.73 420.12,482.73 421.64,482.27 C423.15,481.82 424.67,480.76 425.27,480.45 "/><path d="M425.27,466.82 C425.58,467.58 426.64,469.70 427.09,471.36 C427.55,473.03 427.85,475.91 428.00,476.82 "/><path d="M428.00,476.82 C429.06,476.74 432.85,476.52 434.36,476.36 C435.88,476.21 436.64,475.98 437.09,475.91 "/><path d="M428.00,476.82 C427.55,477.58 425.58,479.70 425.27,481.36 C424.97,483.03 425.73,484.85 426.18,486.82 C426.64,488.79 427.70,492.12 428.00,493.18 "/><path d="M434.36,477.73 C434.52,478.79 434.67,482.27 435.27,484.09 C435.88,485.91 437.24,487.12 438.00,488.64 C438.76,490.15 439.59,491.67 439.82,493.18 C440.05,494.70 439.44,496.97 439.36,497.73 "/><path d="M438.00,488.64 C438.91,488.79 441.94,489.70 443.45,489.55 C444.97,489.39 446.48,488.03 447.09,487.73 "/><path d="M323.13,438.89 C323.37,439.56 323.85,441.88 324.57,442.94 C325.30,444.00 326.31,444.58 327.47,445.25 C328.62,445.93 330.51,446.46 331.52,446.99 C332.53,447.52 333.21,448.20 333.54,448.44 "/><path d="M330.36,438.60 C330.70,438.41 332.05,437.64 332.39,437.44 "/><path d="M323.42,438.89 C323.37,438.50 323.03,437.35 323.13,436.57 C323.22,435.80 323.85,434.65 324.00,434.26 "/><ellipse cx="326.3" cy="445.9" rx="1.7" ry="1.1"/></g>
<g fill="none" stroke="#e82010" stroke-opacity="0.95" stroke-width="2.0" filter="url(#glow)"><path d="M410.73,485.00 C411.64,484.70 414.36,483.64 416.18,483.18 C418.00,482.73 420.12,482.73 421.64,482.27 C423.15,481.82 424.67,480.76 425.27,480.45 "/><path d="M425.27,466.82 C425.58,467.58 426.64,469.70 427.09,471.36 C427.55,473.03 427.85,475.91 428.00,476.82 "/><path d="M428.00,476.82 C429.06,476.74 432.85,476.52 434.36,476.36 C435.88,476.21 436.64,475.98 437.09,475.91 "/><path d="M428.00,476.82 C427.55,477.58 425.58,479.70 425.27,481.36 C424.97,483.03 425.73,484.85 426.18,486.82 C426.64,488.79 427.70,492.12 428.00,493.18 "/><path d="M434.36,477.73 C434.52,478.79 434.67,482.27 435.27,484.09 C435.88,485.91 437.24,487.12 438.00,488.64 C438.76,490.15 439.59,491.67 439.82,493.18 C440.05,494.70 439.44,496.97 439.36,497.73 "/><path d="M438.00,488.64 C438.91,488.79 441.94,489.70 443.45,489.55 C444.97,489.39 446.48,488.03 447.09,487.73 "/><path d="M323.13,438.89 C323.37,439.56 323.85,441.88 324.57,442.94 C325.30,444.00 326.31,444.58 327.47,445.25 C328.62,445.93 330.51,446.46 331.52,446.99 C332.53,447.52 333.21,448.20 333.54,448.44 "/><path d="M330.36,438.60 C330.70,438.41 332.05,437.64 332.39,437.44 "/><path d="M323.42,438.89 C323.37,438.50 323.03,437.35 323.13,436.57 C323.22,435.80 323.85,434.65 324.00,434.26 "/><ellipse cx="326.3" cy="445.9" rx="1.7" ry="1.1"/></g>
</g>
<text x="8.5" y="409.1" font-size="12.4" font-weight="bold" fill="#fff">WT</text>
<text x="165.3" y="409.3" font-size="12.4" font-weight="bold" fill="#fff">NAg<tspan dy="-4.6" font-size="8.5">R</tspan></text>
<text x="321.0" y="409.3" font-size="12.4" font-weight="bold" fill="#fff">Ag<tspan dy="-4.6" font-size="8.5">T</tspan></text>
<rect x="123" y="533.3" width="29.3" height="1.7" fill="#fff"/>
<text x="128.6" y="543.3" font-size="8.7" font-weight="bold" fill="#fff" textLength="17.6" lengthAdjust="spacingAndGlyphs">5 µm</text>
<line x1="545.5" y1="408.60" x2="545.5" y2="575.7" stroke="#000" stroke-width="1.3"/>
<line x1="544.9" y1="575.1" x2="683" y2="575.1" stroke="#000" stroke-width="1.3"/>
<line x1="542.6" y1="575.10" x2="545.5" y2="575.10" stroke="#000" stroke-width="1.2"/>
<text x="541.6" y="578.60" font-size="10.3" text-anchor="end" stroke="#000" stroke-width="0.25">0</text>
<line x1="543.9" y1="561.27" x2="545.5" y2="561.27" stroke="#000" stroke-width="1.1"/>
<line x1="542.6" y1="547.45" x2="545.5" y2="547.45" stroke="#000" stroke-width="1.2"/>
<text x="541.6" y="550.95" font-size="10.3" text-anchor="end" stroke="#000" stroke-width="0.25">50000</text>
<line x1="543.9" y1="533.62" x2="545.5" y2="533.62" stroke="#000" stroke-width="1.1"/>
<line x1="542.6" y1="519.80" x2="545.5" y2="519.80" stroke="#000" stroke-width="1.2"/>
<text x="541.6" y="523.30" font-size="10.3" text-anchor="end" stroke="#000" stroke-width="0.25">100000</text>
<line x1="543.9" y1="505.98" x2="545.5" y2="505.98" stroke="#000" stroke-width="1.1"/>
<line x1="542.6" y1="492.15" x2="545.5" y2="492.15" stroke="#000" stroke-width="1.2"/>
<text x="541.6" y="495.65" font-size="10.3" text-anchor="end" stroke="#000" stroke-width="0.25">150000</text>
<line x1="543.9" y1="478.33" x2="545.5" y2="478.33" stroke="#000" stroke-width="1.1"/>
<line x1="542.6" y1="464.50" x2="545.5" y2="464.50" stroke="#000" stroke-width="1.2"/>
<text x="541.6" y="468.00" font-size="10.3" text-anchor="end" stroke="#000" stroke-width="0.25">200000</text>
<line x1="543.9" y1="450.68" x2="545.5" y2="450.68" stroke="#000" stroke-width="1.1"/>
<line x1="542.6" y1="436.85" x2="545.5" y2="436.85" stroke="#000" stroke-width="1.2"/>
<text x="541.6" y="440.35" font-size="10.3" text-anchor="end" stroke="#000" stroke-width="0.25">250000</text>
<line x1="543.9" y1="423.03" x2="545.5" y2="423.03" stroke="#000" stroke-width="1.1"/>
<line x1="542.6" y1="409.20" x2="545.5" y2="409.20" stroke="#000" stroke-width="1.2"/>
<text x="541.6" y="412.70" font-size="10.3" text-anchor="end" stroke="#000" stroke-width="0.25">300000</text>
<line x1="573.0" y1="575.1" x2="573.0" y2="578.0" stroke="#000" stroke-width="1.2"/>
<line x1="614.3" y1="575.1" x2="614.3" y2="578.0" stroke="#000" stroke-width="1.2"/>
<line x1="655.3" y1="575.1" x2="655.3" y2="578.0" stroke="#000" stroke-width="1.2"/>
<text x="572.6" y="587.9" font-size="10.3" text-anchor="middle">WT</text>
<text x="601.0" y="587.9" font-size="10.3">NAg<tspan dx="0.6" dy="-4.8" font-size="7.8">R</tspan></text>
<text x="645.8" y="587.9" font-size="10.3">Ag<tspan dx="1.0" dy="-5.4" font-size="7.8">T</tspan></text>
<text x="614.0" y="603.1" font-size="10.6" font-weight="bold" text-anchor="middle">Strain</text>
<text transform="translate(487.9,493.0) rotate(-90)" font-size="10.7" font-weight="bold" text-anchor="middle" textLength="173.7" lengthAdjust="spacingAndGlyphs">Fluorescence/µm of cell perimeter</text>
<text transform="translate(499.7,493.3) rotate(-90)" font-size="10.7" font-weight="bold" text-anchor="middle">(au.)</text>
<path d="M572.00,509.70 L571.70,515.00 L571.10,520.00 L569.90,523.60 L566.80,527.30 L564.90,530.00 L563.10,532.70 L561.10,535.90 L559.90,539.10 L559.40,540.50 L560.90,542.70 L562.70,545.00 L565.90,546.50 L566.80,547.30 L566.50,550.00 L567.40,553.60 L569.90,556.40 L571.30,560.00 L571.80,562.70 L571.80,571.50 L574.00,571.50 L574.00,562.70 L574.50,560.00 L575.90,556.40 L578.40,553.60 L579.30,550.00 L579.00,547.30 L579.90,546.50 L583.10,545.00 L584.90,542.70 L586.40,540.50 L585.90,539.10 L584.70,535.90 L582.70,532.70 L580.90,530.00 L579.00,527.30 L575.90,523.60 L574.70,520.00 L574.10,515.00 L573.80,509.70Z" fill="#000"/>
<path d="M613.30,512.80 L612.80,519.40 L610.90,523.80 L607.60,527.10 L603.40,530.50 L601.70,533.80 L601.40,536.60 L602.00,538.20 L605.30,541.00 L608.70,543.80 L610.90,547.10 L612.00,551.50 L612.80,557.00 L613.40,563.70 L615.00,563.70 L615.60,557.00 L616.40,551.50 L617.50,547.10 L619.70,543.80 L623.10,541.00 L626.40,538.20 L627.00,536.60 L626.70,533.80 L625.00,530.50 L620.80,527.10 L617.50,523.80 L615.60,519.40 L615.10,512.80Z" fill="#5a5a5a"/>
<path d="M654.50,476.00 L653.90,490.00 L653.30,495.40 L651.80,500.80 L649.20,506.20 L646.50,511.70 L643.80,517.10 L642.40,522.50 L642.30,526.50 L642.80,527.60 L647.20,530.60 L650.90,534.70 L650.90,538.70 L649.50,544.10 L649.10,549.50 L651.20,555.00 L653.30,560.40 L654.50,563.70 L656.10,563.70 L657.30,560.40 L659.40,555.00 L661.50,549.50 L661.10,544.10 L659.70,538.70 L659.70,534.70 L663.40,530.60 L667.80,527.60 L668.30,526.50 L668.20,522.50 L666.80,517.10 L664.10,511.70 L661.40,506.20 L658.80,500.80 L657.30,495.40 L656.70,490.00 L656.10,476.00Z" fill="#a3a3a3"/>
<circle cx="614.2" cy="509.3" r="1.0" fill="#585858"/>
<circle cx="614.2" cy="567.7" r="1.0" fill="#585858"/>
<circle cx="655.5" cy="432.6" r="1.0" fill="#909090"/>
<circle cx="655.5" cy="445.5" r="1.0" fill="#909090"/>
<circle cx="655.5" cy="457.7" r="1.0" fill="#909090"/>
<circle cx="655.5" cy="461.7" r="1.0" fill="#909090"/>
<circle cx="655.5" cy="463.7" r="1.0" fill="#909090"/>
<circle cx="655.5" cy="474.9" r="1.0" fill="#909090"/>
<circle cx="655.5" cy="568.3" r="1.0" fill="#a2a2a2"/>
<circle cx="572.9" cy="567.0" r="1.0" fill="#000"/>
<line x1="555.6" y1="540.1" x2="589.6" y2="540.1" stroke="#f0201a" stroke-width="1.6"/>
<text x="572.9" y="539.3" font-size="7.6" font-weight="bold" fill="#f0201a" stroke="#f0201a" stroke-width="0.3" text-anchor="middle">63312</text>
<line x1="597.1" y1="536.1" x2="630.8" y2="536.1" stroke="#f0201a" stroke-width="1.6"/>
<text x="614.5" y="535.2" font-size="7.6" font-weight="bold" fill="#f0201a" stroke="#f0201a" stroke-width="0.3" text-anchor="middle">70288</text>
<line x1="638.2" y1="527.7" x2="672.8" y2="527.7" stroke="#f0201a" stroke-width="1.6"/>
<text x="654.9" y="526.6" font-size="7.6" font-weight="bold" fill="#f0201a" stroke="#f0201a" stroke-width="0.3" text-anchor="middle">85764</text>
<path d="M573.7,404.4 V399.6 H655.9 V404.4" fill="none" stroke="#000" stroke-width="1.3"/>
<path d="M614.3,422.6 V417.7 H655.9 V422.6" fill="none" stroke="#000" stroke-width="1.3"/>
<path d="M573,500.4 V494.9 H613 V500.4" fill="none" stroke="#000" stroke-width="1.3"/>
<path d="M605.10,390.20 L605.10,395.50 M602.81,391.53 L607.39,394.18 M607.39,391.53 L602.81,394.18 M611.60,390.20 L611.60,395.50 M609.31,391.53 L613.89,394.18 M613.89,391.53 L609.31,394.18 M618.10,390.20 L618.10,395.50 M615.81,391.53 L620.39,394.18 M620.39,391.53 L615.81,394.18 M624.60,390.20 L624.60,395.50 M622.31,391.53 L626.89,394.18 M626.89,391.53 L622.31,394.18 " stroke="#000" stroke-width="1.35" fill="none"/>
<path d="M625.60,408.65 L625.60,413.95 M623.31,409.98 L627.89,412.62 M627.89,409.98 L623.31,412.62 M631.97,408.65 L631.97,413.95 M629.67,409.98 L634.26,412.62 M634.26,409.98 L629.67,412.62 M638.33,408.65 L638.33,413.95 M636.04,409.98 L640.63,412.62 M640.63,409.98 L636.04,412.62 M644.70,408.65 L644.70,413.95 M642.41,409.98 L646.99,412.62 M646.99,409.98 L642.41,412.62 " stroke="#000" stroke-width="1.35" fill="none"/>
<path d="M583.90,486.35 L583.90,491.65 M581.61,487.68 L586.19,490.32 M586.19,487.68 L581.61,490.32 M590.20,486.35 L590.20,491.65 M587.91,487.68 L592.49,490.32 M592.49,487.68 L587.91,490.32 M596.50,486.35 L596.50,491.65 M594.21,487.68 L598.79,490.32 M598.79,487.68 L594.21,490.32 M602.80,486.35 L602.80,491.65 M600.51,487.68 L605.09,490.32 M605.09,487.68 L600.51,490.32 " stroke="#000" stroke-width="1.35" fill="none"/>
</svg></body></html>
